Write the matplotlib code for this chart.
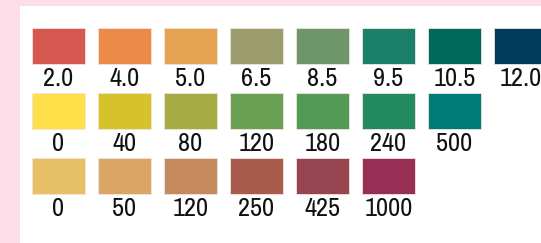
import matplotlib
matplotlib.use("Agg")
import matplotlib.pyplot as plt
from matplotlib.patches import Rectangle

# Fila 1: pH
ph_labels = ["2.0", "4.0", "5.0", "6.5", "8.5", "9.5", "10.5", "12.0"]
ph_colors = ["#d5574f", "#ec8a4a", "#e5a250", "#9b9d6c",
             "#6f966a", "#1b806a", "#00695e", "#003a5c"]

# Fila 2
row2_labels = ["0", "40", "80", "120", "180", "240", "500"]
row2_colors = ["#ffe04a", "#d6c22b", "#a7ab44", "#6aa052",
               "#539a55", "#228a5e", "#007b77"]

# Fila 3
row3_labels = ["0", "50", "120", "250", "425", "1000"]
row3_colors = ["#e7bf67", "#dba566", "#c4895e", "#a95c4e",
               "#964450", "#972f55"]

rows = [(ph_labels, ph_colors), (row2_labels, row2_colors), (row3_labels, row3_colors)]

W, H = 541, 243
fig = plt.figure(figsize=(W / 100, H / 100), dpi=100)
fig.patch.set_facecolor("#fddde8")
ax = fig.add_axes([0, 0, 1, 1])
ax.set_xlim(0, W)
ax.set_ylim(H, 0)
ax.axis("off")

# Panel blanco
ax.add_patch(Rectangle((20, 6), W - 20, H - 6, facecolor="white", edgecolor="none"))

x0, y0 = 32, 28
pitch_x, pitch_y = 66, 65
sw_w, sw_h = 53, 36

for r, (labels, colors) in enumerate(rows):
    top = y0 + r * pitch_y
    for c, (lab, col) in enumerate(zip(labels, colors)):
        left = x0 + c * pitch_x
        ax.add_patch(Rectangle((left, top), sw_w, sw_h, facecolor=col,
                               edgecolor="#f3e3dc", linewidth=0.6))
        ax.text(left + sw_w / 2, top + sw_h + 22, lab, ha="center", va="baseline",
                fontsize=19, color="#111111",
                family=["Archivo Narrow", "DejaVu Sans"])

fig.savefig("out.png", dpi=100, facecolor=fig.get_facecolor())
